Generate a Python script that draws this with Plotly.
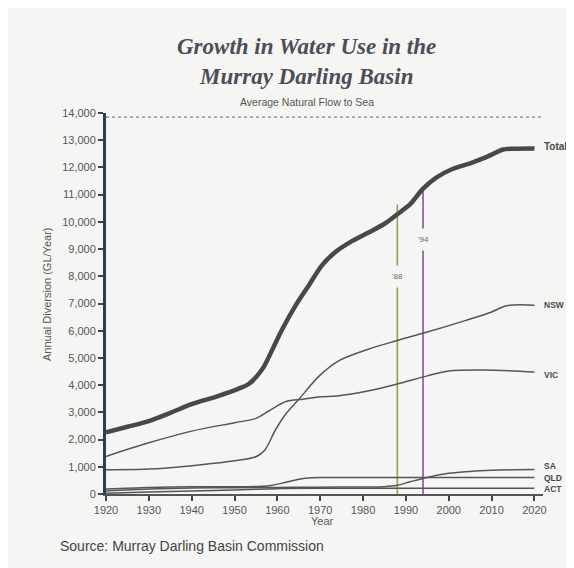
import plotly.graph_objects as go

# ---------------- data ----------------
total_years = [1920, 1925, 1930, 1935, 1940, 1945, 1948.7, 1951, 1953.4, 1956.5, 1958.9, 1961.2,
               1964.3, 1967.4, 1970.5, 1973.7, 1977.5, 1981.4, 1985, 1988, 1991, 1994, 1997,
               2001, 2005, 2008, 2010, 2012.5, 2015, 2020]
total_vals = [2270, 2470, 2680, 2980, 3300, 3540, 3730, 3870, 4050, 4590, 5330, 6070,
              6940, 7680, 8420, 8910, 9300, 9620, 9930, 10280, 10650, 11220, 11620,
              11950, 12150, 12330, 12470, 12650, 12690, 12700]

nsw_years = [1920, 1930, 1940, 1950, 1955, 1957, 1959.6, 1962, 1965, 1969.8, 1974.4, 1981.4,
             1988, 1995, 2004, 2010, 2013.5, 2020]
nsw_vals = [890, 915, 1040, 1220, 1370, 1600, 2370, 2950, 3480, 4340, 4900, 5330,
            5640, 5950, 6380, 6690, 6920, 6940]

vic_years = [1920, 1930, 1940, 1950, 1955, 1958, 1962, 1966, 1970, 1974, 1981.4, 1988, 1995,
             2000, 2008, 2020]
vic_vals = [1380, 1880, 2310, 2620, 2780, 3050, 3400, 3480, 3570, 3600, 3790, 4040, 4340,
            4520, 4560, 4480]

sa_years = [1920, 1930, 1940, 1950, 1960, 1970, 1980, 1985, 1988, 1991, 1995, 2000, 2005,
            2010, 2015, 2020]
sa_vals = [110, 180, 220, 230, 240, 250, 260, 270, 320, 450, 610, 760, 830, 870, 890, 900]

qld_years = [1920, 1930, 1940, 1950, 1955, 1958, 1962, 1965, 1968, 1975, 2020]
qld_vals = [180, 240, 270, 265, 275, 300, 430, 540, 600, 605, 605]

act_years = [1920, 1930, 1940, 1950, 1960, 1970, 2020]
act_vals = [30, 70, 110, 150, 195, 210, 210]

series_labels = ["Total", "NSW", "VIC", "SA", "QLD", "ACT"]
label_levels = [12760, 6960, 4370, 1040, 600, 190]

flow_to_sea = 13850
milestone_years = [1988, 1994]
milestone_tops = [10640, 11320]
milestone_labels = ["'88", "'94"]
milestone_label_levels = [7990, 9340]

x_ticks = list(range(1920, 2021, 10))
y_ticks = list(range(0, 14001, 1000))

# ---------------- styles / layout geometry ----------------
BG = "#f5f5f3"
LINE = "#555555"
TXT = "#4a4a4a"
ms_colors = ["#8aa84a", "#9050a0"]

W, H = 566, 560          # page body adds 8px margin
ML, MR, MT, MB = 98, 31, 105, 74
PW, PH = W - ML - MR, H - MT - MB
OFF = 8


def px(x):   # screen pixel -> paper x
    return (x - OFF - ML) / PW


def py(y):   # screen pixel -> paper y
    return (H - MB + OFF - y) / PH


fig = go.Figure()

# flow to sea dotted line
fig.add_trace(go.Scatter(x=[1920, 2021.5], y=[flow_to_sea, flow_to_sea], mode="lines",
                         line=dict(color="#666666", width=1, dash="dot"),
                         hoverinfo="skip", showlegend=False))

# milestone vertical lines
for yr, top, c in zip(milestone_years, milestone_tops, ms_colors):
    fig.add_trace(go.Scatter(x=[yr, yr], y=[0, top], mode="lines",
                             line=dict(color=c, width=1.6),
                             hoverinfo="skip", showlegend=False))

series = [
    (nsw_years, nsw_vals, 1.5),
    (vic_years, vic_vals, 1.5),
    (sa_years, sa_vals, 1.5),
    (qld_years, qld_vals, 1.5),
    (act_years, act_vals, 1.5),
    (total_years, total_vals, 4.5),
]
for xs, ys, w in series:
    fig.add_trace(go.Scatter(x=xs, y=ys, mode="lines",
                             line=dict(color=LINE if w < 3 else "#484848", width=w,
                                       shape="spline", smoothing=0.9),
                             hoverinfo="skip", showlegend=False))

annotations = []
for lab, lvl in zip(series_labels, label_levels):
    annotations.append(dict(x=2021.8, y=lvl, xref="x", yref="y", text="<b>%s</b>" % lab,
                            showarrow=False, xanchor="left", yanchor="middle",
                            font=dict(family="Liberation Sans, Arial",
                                      size=10 if lab == "Total" else 8.5, color=TXT)))
for yr, lvl, lab in zip(milestone_years, milestone_label_levels, milestone_labels):
    annotations.append(dict(x=yr, y=lvl, xref="x", yref="y", text=lab, showarrow=False,
                            bgcolor=BG, borderpad=6,
                            font=dict(family="Liberation Sans, Arial", size=8, color="#666666")))

texts = [
    dict(x=px(306), y=py(46), text="<i><b>Growth in Water Use in the</b></i>",
         font=dict(family="Liberation Serif, Times New Roman", size=23, color="#4d4d58")),
    dict(x=px(306), y=py(76), text="<i><b>Murray Darling Basin</b></i>",
         font=dict(family="Liberation Serif, Times New Roman", size=23, color="#4d4d58")),
    dict(x=px(307), y=py(102), text="Average Natural Flow to Sea",
         font=dict(family="Liberation Sans, Arial", size=10.5, color="#555")),
    dict(x=px(322), y=py(521), text="Year",
         font=dict(family="Liberation Sans, Arial", size=11, color="#555")),
    dict(x=px(58), y=py(546), text="Source: Murray Darling Basin Commission",
         xanchor="left", font=dict(family="Liberation Sans, Arial", size=14, color="#444")),
    dict(x=px(47), y=py(294), text="Annual Diversion (GL/Year)", textangle=-90,
         font=dict(family="Liberation Sans, Arial", size=11, color="#555")),
]
for t in texts:
    d = dict(xref="paper", yref="paper", showarrow=False, yanchor="middle", xanchor="center")
    d.update(t)
    annotations.append(d)

fig.update_layout(
    width=W, height=H,
    paper_bgcolor=BG, plot_bgcolor=BG,
    margin=dict(l=ML, r=MR, t=MT, b=MB),
    annotations=annotations,
    xaxis=dict(range=[1920, 2022], tickvals=x_ticks, ticks="outside", ticklen=5,
               tickwidth=1.5, tickcolor="#444", showline=True, linecolor="#555", linewidth=1.5,
               showgrid=False, zeroline=False,
               tickfont=dict(family="Liberation Sans, Arial", size=11, color="#555")),
    yaxis=dict(range=[0, 14000], tickvals=y_ticks, tickformat=",d", ticks="outside",
               ticklen=5, tickwidth=1.5, tickcolor="#444", showline=True,
               linecolor="#2f3a5c", linewidth=3, showgrid=False, zeroline=False,
               tickfont=dict(family="Liberation Sans, Arial", size=11, color="#555")),
)

fig.write_html("out.html")
